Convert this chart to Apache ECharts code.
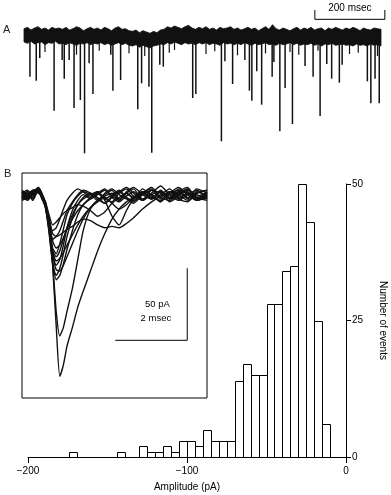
<!DOCTYPE html>
<html><head><meta charset="utf-8">
<script src="https://cdn.jsdelivr.net/npm/echarts@6/dist/echarts.min.js"></script>
<style>html,body{margin:0;padding:0;background:#fff}#c{width:391px;height:495px}</style>
</head><body><div id="c"></div>
<script>
// ---------- Panel A: continuous recording (time in ms, current in pA) ----------
const bandStep = 10; // ms between envelope samples
const bandUpper = [11,13,9,12,14,10,12,9,13,11,12,
  10,13,9,11,14,12,8,11,13,10,
  12,9,13,11,8,12,14,10,11,8,
  7,9,5,8,6,4,7,5,9,10,
  14,12,15,13,11,14,16,12,10,13,
  11,14,10,12,9,13,11,12,14,10,
  12,9,11,13,10,12,8,11,14,10,
  17,11,9,12,10,8,11,13,9,12,
  10,13,9,11,12,8,12,10,13,11,
  9,12,10,13,11,8,12,10,9,12,11,10];
const bandLower = [-9,-11,-8,-12,-10,-9,-13,-10,-11,-8,-12,
  -11,-13,-10,-12,-14,-11,-12,-10,-13,-11,
  -12,-10,-13,-11,-14,-12,-10,-13,-11,-14,
  -15,-13,-17,-14,-16,-18,-15,-14,-12,-13,
  -10,-12,-9,-11,-13,-10,-12,-11,-13,-10,
  -12,-10,-13,-11,-12,-14,-10,-12,-11,-13,
  -11,-13,-10,-12,-14,-11,-13,-12,-10,-13,
  -12,-14,-11,-13,-12,-10,-13,-11,-14,-12,
  -13,-11,-14,-12,-15,-12,-13,-11,-14,-13,
  -12,-14,-13,-15,-12,-14,-13,-15,-12,-14,-13,-15];
const spikeTimes = [17,35,45,86,109,115,129,143,161,173,186,197,248,254,276,325,336,357,365,388,398,
  482,491,564,574,596,631,644,651,665,679,709,714,731,746,767,803,826,846,865,879,901,909,981,991,1003,1015];
const spikeAmps = [-61,-67,-33,-112,-36,-64,-36,-108,-96,-176,-41,-87,-28,-82,-66,-110,-71,-76,-175,-43,-46,
  -93,-87,-158,-38,-72,-36,-82,-97,-53,-103,-61,-39,-143,-78,-132,-45,-61,-120,-42,-64,-70,-43,-68,-101,-64,-101];
const minorSpikeTimes = [60,150,215,300,345,415,430,520,545,610,690,760,785,840,930,955,1010];
const minorSpikeAmps = [-24,-28,-22,-26,-30,-25,-21,-27,-23,-29,-26,-24,-28,-22,-27,-25,-30];

// ---------- Panel B inset: superimposed sweeps (time in ms, current in pA) ----------
const sweepTimes = [0,0.15,0.3,0.45,0.55,0.65,0.75,0.85,0.95,1.05,1.15,1.25,1.4,1.55,1.7,1.9,2.1,2.3,2.5,2.7,2.9,3.1,3.35,3.6,3.85,4.1,4.35,4.6,4.85,5.14];
const sweep01 = [2,-2,3,5,1,-6,-22,-48,-90,-125,-117,-104,-91,-77,-66,-52,-38,-26,-16,-9,-4,-1,3,-2,4,-1,2,5,-1,1];
const sweep02 = [-1,2,-3,4,0,-5,-20,-45,-80,-97,-91,-80,-64,-44,-24,-9,-3,1,4,-2,2,5,-3,1,-4,3,1,-3,3,0];
const sweep03 = [3,0,2,6,2,-7,-24,-45,-58,-55,-47,-37,-24,-13,-6,-1,3,-2,-4,2,5,0,-3,4,2,-2,3,6,-2,2];
const sweep04 = [0,-3,1,3,-1,-8,-25,-47,-55,-50,-40,-28,-15,-6,-1,2,-1,-5,0,3,-1,-4,2,6,-1,-3,1,3,-3,-1];
const sweep05 = [4,1,-1,4,0,-6,-21,-40,-51,-52,-48,-42,-33,-24,-16,-8,-3,0,2,-3,3,6,1,-2,3,-1,5,2,-2,3];
const sweep06 = [-2,1,4,5,1,-5,-20,-40,-48,-44,-34,-22,-10,-3,1,-2,2,5,-1,-4,0,3,-2,2,7,1,-3,1,4,-1];
const sweep07 = [1,3,0,4,-2,-7,-22,-38,-45,-43,-39,-34,-27,-20,-14,-8,-4,-1,-5,-9,-6,-1,3,-2,1,5,-2,-4,2,4];
const sweep08 = [-3,-1,2,3,-1,-6,-19,-36,-40,-33,-23,-13,-5,0,3,1,-3,2,5,1,-2,-5,1,4,-1,3,-2,2,-1,-3];
const sweep09 = [2,4,1,6,2,-4,-17,-31,-36,-34,-29,-23,-16,-10,-6,-2,1,4,0,-3,2,-1,5,0,-3,2,4,-2,5,2];
const sweep10 = [0,-2,3,2,0,-8,-20,-30,-28,-24,-17,-10,-4,1,4,2,-2,-5,-1,3,6,2,-3,1,3,-4,0,4,1,-2];
const sweep11 = [3,1,-2,4,1,-5,-16,-26,-28,-27,-25,-23,-21,-18,-16,-17,-20,-22,-21,-22,-19,-15,-9,-4,0,3,-1,2,-3,1];
const sweep12 = [-1,2,2,5,0,-6,-16,-24,-22,-16,-9,-3,2,5,3,-1,2,-2,1,4,-1,-3,2,5,-2,1,3,-1,2,4];
const sweep13 = [1,-1,3,4,-1,-4,-13,-20,-18,-15,-12,-10,-8,-6,-7,-10,-14,-11,-5,-1,2,-2,3,1,-4,2,6,1,-3,0];
const sweep14 = [-2,0,4,3,-1,-7,-21,-38,-42,-38,-30,-22,-13,-6,-2,1,3,-3,-14,-20,-10,-2,2,-1,3,-2,1,5,0,2];

// ---------- Panel B histogram ----------
const binWidth = 5; // pA
const binLeft  = [-174,-144,-130,-125,-120,-115,-110,-105,-100,-95,-90,-85,-80,-75,-70,-65,-60,-55,-50,-45,-40,-35,-30,-25,-20,-15];
const binCount = [1,1,2,1,1,2,1,3,3,2,5,3,3,3,14,17,15,15,28,28,34,35,50,43,25,6];
const ampTicks = [-200,-100,0];
const countTicks = [0,25,50];

// ---------- build ----------
const FONT = '"Liberation Sans", Arial, sans-serif';
const sweeps = [sweep01,sweep02,sweep03,sweep04,sweep05,sweep06,sweep07,sweep08,sweep09,sweep10,sweep11,sweep12,sweep13,sweep14];
const chart = echarts.init(document.getElementById('c'), null, {renderer:'canvas'});

const sweepSeries = sweeps.map(s => ({
  type:'line', xAxisIndex:1, yAxisIndex:1, showSymbol:false, smooth:0.2, silent:true,
  data: sweepTimes.map((t,i)=>[t, s[i]]),
  lineStyle:{color:'#111', width:1.4}, clip:true, animation:false
}));

const option = {
  animation:false,
  grid:[
    {left:24, top:0, width:364, height:160, outerBoundsMode:'none'},
    {left:22, top:173, width:185, height:225, show:true, borderColor:'#000', borderWidth:1, backgroundColor:'rgba(0,0,0,0)', outerBoundsMode:'none'},
    {left:28, top:184, width:318, height:273, outerBoundsMode:'none'}
  ],
  xAxis:[
    {gridIndex:0, type:'value', min:0, max:1040, show:false},
    {gridIndex:1, type:'value', min:0, max:185/36, show:false},
    {gridIndex:2, type:'value', min:ampTicks[0], max:ampTicks[ampTicks.length-1], interval:100,
      axisLine:{show:true, onZero:false, lineStyle:{color:'#000', width:1}},
      axisTick:{show:true, length:6, lineStyle:{color:'#000', width:1}},
      splitLine:{show:false},
      axisLabel:{margin:9, color:'#000', fontSize:10, fontFamily:FONT,
        formatter:v => v<0 ? '\u2212' + Math.abs(v) : String(v)},
      name:'Amplitude (pA)', nameLocation:'middle', nameGap:25,
      nameTextStyle:{color:'#000', fontSize:10, fontFamily:FONT}}
  ],
  yAxis:[
    {gridIndex:0, type:'value', min:-186, max:54, show:false},
    {gridIndex:1, type:'value', min:-140, max:16, show:false},
    {gridIndex:2, type:'value', position:'right', min:countTicks[0], max:countTicks[countTicks.length-1], interval:25,
      axisLine:{show:true, onZero:false, lineStyle:{color:'#000', width:1}},
      axisTick:{show:true, length:5, lineStyle:{color:'#000', width:1}},
      splitLine:{show:false},
      axisLabel:{margin:6, color:'#000', fontSize:10, fontFamily:FONT},
      name:'Number of events', nameLocation:'middle', nameGap:32, nameRotate:-90,
      nameTextStyle:{color:'#000', fontSize:10, fontFamily:FONT}}
  ],
  graphic:[
    {type:'text', left:3, top:24, style:{text:'A', fontSize:11, fontFamily:FONT, fill:'#222'}},
    {type:'text', left:4, top:168, style:{text:'B', fontSize:11, fontFamily:FONT, fill:'#222'}}
  ],
  series:[
    // baseline noise band
    {type:'custom', xAxisIndex:0, yAxisIndex:0, silent:true, data:[[0,0]],
      renderItem:(p, api) => {
        const pts = [];
        for (let i=0;i<bandUpper.length;i++) pts.push(api.coord([i*bandStep, bandUpper[i]]));
        for (let i=bandLower.length-1;i>=0;i--) pts.push(api.coord([i*bandStep, bandLower[i]]));
        return {type:'polygon', shape:{points:pts}, style:{fill:'#111', stroke:'#111', lineWidth:0.8}};
      }},
    // large events
    {type:'custom', xAxisIndex:0, yAxisIndex:0, silent:true,
      data: spikeTimes.map((t,i)=>[t, spikeAmps[i]]),
      renderItem:(p, api) => {
        const a = api.coord([api.value(0), -6]);
        const b = api.coord([api.value(0), api.value(1)]);
        return {type:'line', shape:{x1:a[0], y1:a[1], x2:b[0], y2:b[1]}, style:{stroke:'#111', lineWidth:1.5}};
      }},
    // small events
    {type:'custom', xAxisIndex:0, yAxisIndex:0, silent:true,
      data: minorSpikeTimes.map((t,i)=>[t, minorSpikeAmps[i]]),
      renderItem:(p, api) => {
        const a = api.coord([api.value(0), -6]);
        const b = api.coord([api.value(0), api.value(1)]);
        return {type:'line', shape:{x1:a[0], y1:a[1], x2:b[0], y2:b[1]}, style:{stroke:'#111', lineWidth:1.2}};
      }},
    // time scale bar (200 ms)
    {type:'custom', xAxisIndex:0, yAxisIndex:0, silent:true, data:[[831,25]],
      renderItem:(p, api) => {
        const t0 = api.value(0), yb = api.value(1);
        const pts = [[t0,39],[t0,yb],[t0+200,yb],[t0+200,39]].map(q=>api.coord(q));
        const tp = api.coord([t0+100, 42]);
        return {type:'group', children:[
          {type:'polyline', shape:{points:pts}, style:{stroke:'#000', lineWidth:1, fill:null}},
          {type:'text', x:tp[0], y:tp[1], style:{text:'200 msec', fontSize:10, fontFamily:FONT, fill:'#000', align:'center', verticalAlign:'middle'}}
        ]};
      }},
    ...sweepSeries,
    // inset scale bar (50 pA, 2 ms)
    {type:'custom', xAxisIndex:1, yAxisIndex:1, silent:true, data:[[4.59,-100]],
      renderItem:(p, api) => {
        const tx = api.value(0), vy = api.value(1);
        const pts = [[tx-2,vy],[tx,vy],[tx,vy+50]].map(q=>api.coord(q));
        const l1 = api.coord([tx-0.83, -75]);
        const l2 = api.coord([tx-0.87, -85]);
        return {type:'group', children:[
          {type:'polyline', shape:{points:pts}, style:{stroke:'#000', lineWidth:1, fill:null}},
          {type:'text', x:l1[0], y:l1[1], style:{text:'50 pA', fontSize:9.5, fontFamily:FONT, fill:'#000', align:'center', verticalAlign:'middle'}},
          {type:'text', x:l2[0], y:l2[1], style:{text:'2 msec', fontSize:9.5, fontFamily:FONT, fill:'#000', align:'center', verticalAlign:'middle'}}
        ]};
      }},
    // histogram bars
    {type:'custom', xAxisIndex:2, yAxisIndex:2, silent:true,
      data: binLeft.map((x,i)=>[x, binCount[i]]),
      renderItem:(p, api) => {
        const x0 = api.value(0), c = api.value(1);
        const a = api.coord([x0, c]);
        const b = api.coord([x0 + binWidth, 0]);
        const xl = Math.round(a[0]) + 0.5, xr = Math.round(b[0]) + 0.5;
        const yt = Math.round(a[1]) + 0.5, yb = Math.round(b[1]) + 0.5;
        return {type:'rect', shape:{x:xl, y:yt, width:xr-xl, height:yb-yt}, style:{fill:'#fff', stroke:'#000', lineWidth:1}};
      }}
  ]
};
chart.setOption(option);
</script></body></html>
